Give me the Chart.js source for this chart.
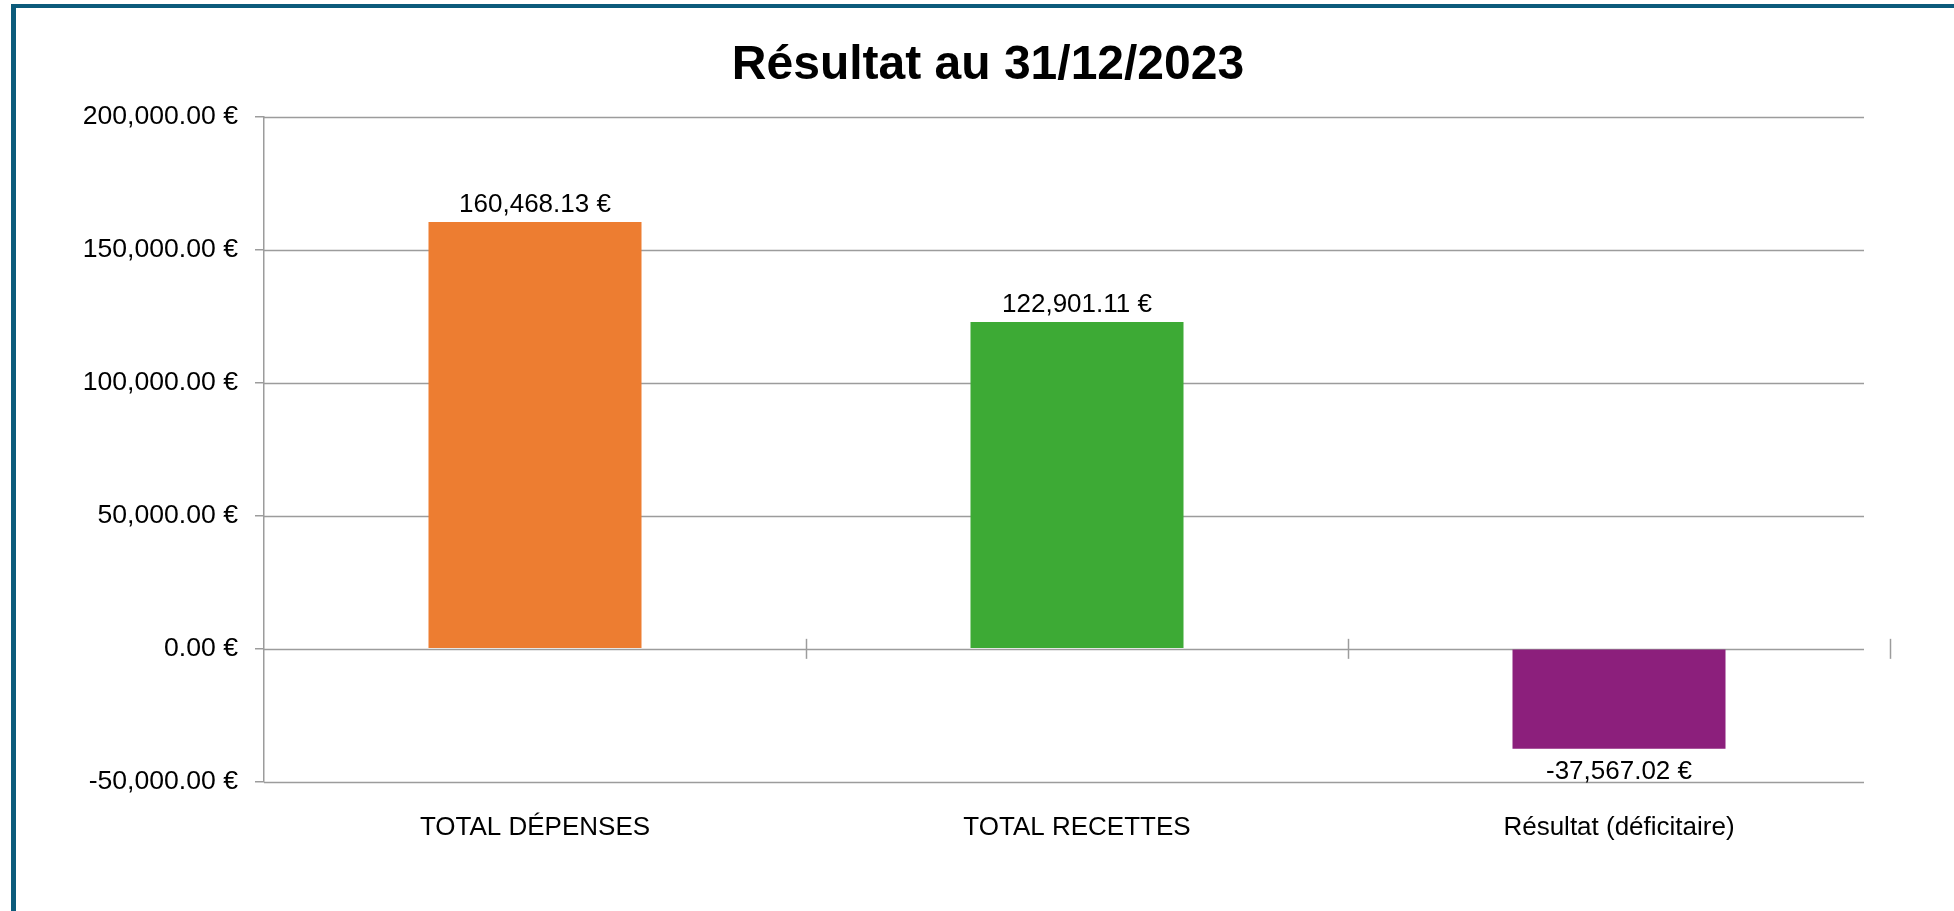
<!DOCTYPE html>
<html>
<head>
<meta charset="utf-8">
<title>Résultat au 31/12/2023</title>
<script src="https://cdn.jsdelivr.net/npm/chart.js@4/dist/chart.umd.min.js"></script>
<style>
    html, body { margin: 0; padding: 0; background: #ffffff; }
    #wrap { position: relative; width: 1954px; height: 911px; overflow: hidden; }
    #frame {
        position: absolute; left: 11px; top: 4px; right: -20px; bottom: -20px;
        border-left: 5px solid #0c5b7b; border-top: 4px solid #0c5b7b;
        pointer-events: none;
    }
    canvas { position: absolute; left: 0; top: 0; }
</style>
</head>
<body>
<div id="wrap">
    <canvas id="resultChart" width="1954" height="911"></canvas>
    <div id="frame"></div>
</div>
<script>
const categories = ['TOTAL DÉPENSES', 'TOTAL RECETTES', 'Résultat (déficitaire)'];
const amounts = [160468.13, 122901.11, -37567.02];
const barColors = ['#ed7d31', '#3daa35', '#8c1f7c'];
const chartTitle = 'Résultat au 31/12/2023';
const yMin = -50000;
const yMax = 200000;
const yStep = 50000;

const FONT = "'Liberation Sans', Arial, Helvetica, sans-serif";
const GRID = '#9c9c9c';

function euro(v) {
    return v.toLocaleString('en-US', { minimumFractionDigits: 2, maximumFractionDigits: 2 }) + ' €';
}

// horizontal gridlines stop a little before the end of the axis, like the original
const gridPlugin = {
    id: 'excelGrid',
    beforeDatasetsDraw(chart) {
        const { ctx, chartArea, scales } = chart;
        const y = scales.y;
        const x = scales.x;
        const right = chartArea.right - 26;
        ctx.save();
        ctx.strokeStyle = GRID;
        ctx.lineWidth = 1.5;
        y.ticks.forEach(t => {
            const py = Math.round(y.getPixelForValue(t.value)) + 0.5;
            ctx.beginPath();
            ctx.moveTo(chartArea.left, py);
            ctx.lineTo(right, py);
            ctx.stroke();
        });
        // category separators crossing the zero line
        const zero = y.getPixelForValue(0);
        const step = (x.right - x.left) / categories.length;
        for (let k = 1; k <= categories.length; k++) {
            const px = Math.round(x.left + k * step) + 0.5;
            ctx.beginPath();
            ctx.moveTo(px, zero - 10);
            ctx.lineTo(px, zero + 10);
            ctx.stroke();
        }
        ctx.restore();
    }
};

const labelPlugin = {
    id: 'valueLabels',
    afterDatasetsDraw(chart) {
        const { ctx } = chart;
        const meta = chart.getDatasetMeta(0);
        ctx.save();
        ctx.font = '26px ' + FONT;
        ctx.fillStyle = '#000000';
        ctx.textAlign = 'center';
        ctx.textBaseline = 'alphabetic';
        meta.data.forEach((bar, i) => {
            const v = amounts[i];
            const ty = v >= 0 ? bar.y - 10 : bar.y + 30;
            ctx.fillText(euro(v), bar.x, ty);
        });
        ctx.restore();
    }
};

// title is centred on the framed box rather than on the chart
const titlePlugin = {
    id: 'frameTitle',
    afterDraw(chart) {
        const { ctx, width } = chart;
        ctx.save();
        ctx.font = 'bold 48px ' + FONT;
        ctx.fillStyle = '#000000';
        ctx.textAlign = 'center';
        ctx.textBaseline = 'middle';
        ctx.fillText(chartTitle, width / 2 + 11, 66);
        ctx.restore();
    }
};

const config = {
    type: 'bar',
    data: {
        labels: categories,
        datasets: [{
            data: amounts,
            backgroundColor: barColors,
            borderWidth: 0,
            barPercentage: 0.393,
            categoryPercentage: 1
        }]
    },
    options: {
        responsive: false,
        animation: false,
        layout: {
            padding: { left: 0, right: 64, top: 117, bottom: 46 }
        },
        plugins: {
            legend: { display: false },
            tooltip: { enabled: false },
            title: { display: false }
        },
        scales: {
            x: {
                grid: { display: false },
                border: { display: false },
                ticks: {
                    color: '#000000',
                    font: { family: FONT, size: 26, lineHeight: 1.2 },
                    padding: 22,
                    maxRotation: 0
                }
            },
            y: {
                min: yMin,
                max: yMax,
                afterFit(scale) { scale.width = 264; },
                grid: {
                    drawOnChartArea: false,
                    drawTicks: true,
                    tickLength: 9,
                    color: GRID,
                    lineWidth: 1.5
                },
                border: { display: true, color: GRID, width: 1.5 },
                ticks: {
                    stepSize: yStep,
                    padding: 17,
                    color: '#000000',
                    font: { family: FONT, size: 26.6, lineHeight: 1.2 },
                    callback: function(value) { return euro(value); }
                }
            }
        }
    },
    plugins: [gridPlugin, labelPlugin, titlePlugin]
};

const el = document.getElementById('resultChart');
if (el) {
    new Chart(el.getContext('2d'), config);
} else {
    console.error('Cannot find element with id "resultChart"');
}
</script>
</body>
</html>
